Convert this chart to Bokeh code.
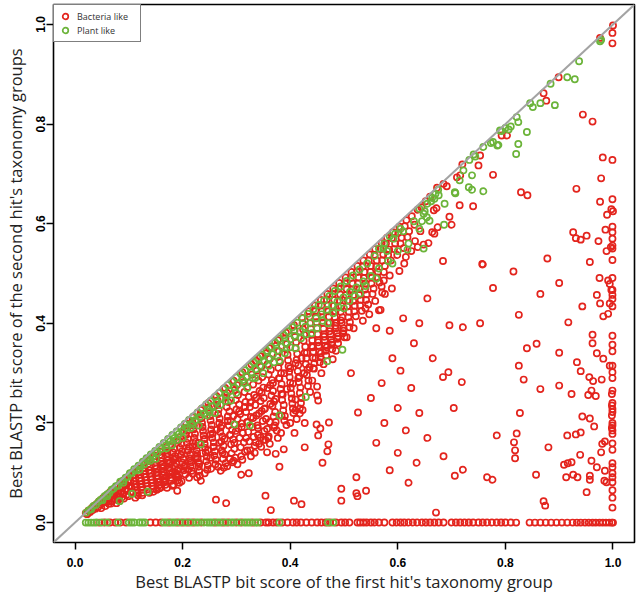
from bokeh.plotting import figure
from bokeh.models import Range1d, Slope, Legend, LegendItem, FixedTicker, PrintfTickFormatter
from bokeh.embed import file_html
from bokeh.resources import INLINE

RED = "#e3241d"
GREEN = "#6cb43a"

x_label = "Best BLASTP bit score of the first hit's taxonomy group"
y_label = "Best BLASTP bit score of the second hit's taxonomy groups"
tick_values = [0.0, 0.2, 0.4, 0.6, 0.8, 1.0]
series_names = ["Bacteria like", "Plant like"]

# Bacteria-like proteins: dense band under the diagonal
bacteria_band = [
    (0.020, 0.019), (0.022, 0.017), (0.025, 0.024), (0.028, 0.021), (0.031, 0.029), (0.033, 0.025),
    (0.036, 0.034), (0.038, 0.028), (0.041, 0.038), (0.043, 0.031), (0.045, 0.043), (0.047, 0.036),
    (0.049, 0.029), (0.052, 0.049), (0.054, 0.041), (0.056, 0.033), (0.058, 0.054), (0.061, 0.046),
    (0.063, 0.038), (0.065, 0.061), (0.067, 0.052), (0.069, 0.043), (0.071, 0.066), (0.073, 0.057),
    (0.075, 0.047), (0.077, 0.039), (0.079, 0.072), (0.081, 0.063), (0.083, 0.053), (0.086, 0.080),
    (0.088, 0.069), (0.090, 0.058), (0.091, 0.048), (0.093, 0.086), (0.095, 0.075), (0.097, 0.064),
    (0.099, 0.053), (0.101, 0.093), (0.103, 0.082), (0.105, 0.070), (0.107, 0.059),
    (0.110, 0.101), (0.112, 0.089), (0.113, 0.077), (0.115, 0.065), (0.117, 0.055), (0.119, 0.108),
    (0.121, 0.096), (0.123, 0.084), (0.124, 0.071), (0.126, 0.060), (0.128, 0.116), (0.130, 0.104),
    (0.131, 0.091), (0.133, 0.079), (0.135, 0.067), (0.137, 0.124), (0.139, 0.112), (0.140, 0.099),
    (0.142, 0.086), (0.144, 0.073), (0.146, 0.062), (0.148, 0.134), (0.150, 0.121), (0.151, 0.108),
    (0.153, 0.094), (0.155, 0.081), (0.157, 0.069), (0.159, 0.143), (0.161, 0.130), (0.162, 0.116),
    (0.164, 0.102), (0.166, 0.088), (0.168, 0.076), (0.170, 0.152), (0.172, 0.139), (0.173, 0.125),
    (0.175, 0.111), (0.177, 0.097), (0.179, 0.084), (0.181, 0.074), (0.183, 0.162), (0.185, 0.148),
    (0.186, 0.133), (0.188, 0.119), (0.190, 0.105), (0.192, 0.091), (0.194, 0.080), (0.196, 0.172),
    (0.198, 0.158), (0.199, 0.143), (0.201, 0.128), (0.203, 0.112), (0.205, 0.097),
    (0.207, 0.199), (0.209, 0.184), (0.210, 0.168), (0.212, 0.152), (0.214, 0.137), (0.216, 0.121),
    (0.217, 0.104), (0.219, 0.211), (0.221, 0.195), (0.223, 0.178), (0.224, 0.162), (0.226, 0.146),
    (0.228, 0.129), (0.230, 0.112), (0.232, 0.094), (0.234, 0.226), (0.235, 0.209), (0.237, 0.192),
    (0.239, 0.175), (0.241, 0.158), (0.243, 0.141), (0.244, 0.123), (0.246, 0.106), (0.248, 0.240),
    (0.250, 0.222), (0.252, 0.205), (0.253, 0.187), (0.255, 0.170), (0.257, 0.152), (0.259, 0.134),
    (0.261, 0.117), (0.263, 0.254), (0.264, 0.236), (0.266, 0.218), (0.268, 0.200), (0.270, 0.182),
    (0.272, 0.163), (0.273, 0.145), (0.275, 0.128), (0.277, 0.110), (0.279, 0.270), (0.281, 0.251),
    (0.282, 0.232), (0.284, 0.213), (0.286, 0.195), (0.288, 0.176), (0.290, 0.157), (0.291, 0.139),
    (0.293, 0.121), (0.295, 0.285), (0.297, 0.266), (0.299, 0.246), (0.300, 0.227), (0.302, 0.208),
    (0.304, 0.189), (0.306, 0.170), (0.308, 0.151), (0.309, 0.133),
    (0.311, 0.302), (0.313, 0.282), (0.315, 0.262), (0.317, 0.242), (0.318, 0.222), (0.320, 0.202),
    (0.322, 0.182), (0.324, 0.163), (0.326, 0.145), (0.328, 0.318), (0.329, 0.297), (0.331, 0.277),
    (0.333, 0.256), (0.335, 0.236), (0.337, 0.215), (0.339, 0.195), (0.340, 0.176), (0.342, 0.158),
    (0.344, 0.334), (0.346, 0.313), (0.348, 0.292), (0.350, 0.271), (0.351, 0.250), (0.353, 0.229),
    (0.355, 0.208), (0.357, 0.188), (0.359, 0.170), (0.361, 0.350), (0.362, 0.329), (0.364, 0.307),
    (0.366, 0.286), (0.368, 0.264), (0.370, 0.243), (0.372, 0.222), (0.373, 0.202), (0.375, 0.185),
    (0.377, 0.366), (0.379, 0.344), (0.381, 0.322), (0.383, 0.300), (0.384, 0.278), (0.386, 0.257),
    (0.388, 0.236), (0.390, 0.214), (0.392, 0.381), (0.394, 0.359), (0.395, 0.337), (0.397, 0.314),
    (0.399, 0.292), (0.401, 0.270), (0.403, 0.249), (0.405, 0.229),
    (0.407, 0.396), (0.409, 0.373), (0.410, 0.350), (0.412, 0.327), (0.414, 0.304), (0.416, 0.282),
    (0.418, 0.260), (0.420, 0.240), (0.422, 0.411), (0.424, 0.388), (0.425, 0.365), (0.427, 0.341),
    (0.429, 0.318), (0.431, 0.296), (0.433, 0.274), (0.435, 0.424), (0.437, 0.400), (0.439, 0.377),
    (0.440, 0.354), (0.442, 0.331), (0.444, 0.309), (0.446, 0.436), (0.448, 0.413), (0.450, 0.390),
    (0.452, 0.366), (0.454, 0.343), (0.455, 0.322), (0.457, 0.447), (0.459, 0.424), (0.461, 0.401),
    (0.463, 0.378), (0.465, 0.355), (0.467, 0.336), (0.469, 0.459), (0.470, 0.436), (0.472, 0.413),
    (0.474, 0.390), (0.476, 0.367), (0.478, 0.348), (0.480, 0.470), (0.482, 0.447), (0.484, 0.424),
    (0.486, 0.401), (0.487, 0.380), (0.489, 0.360), (0.491, 0.481), (0.493, 0.458), (0.495, 0.435),
    (0.497, 0.412), (0.499, 0.390), (0.501, 0.372),
    (0.503, 0.492), (0.505, 0.469), (0.507, 0.446), (0.509, 0.423), (0.511, 0.402), (0.514, 0.503),
    (0.516, 0.480), (0.518, 0.457), (0.520, 0.435), (0.522, 0.414), (0.525, 0.515), (0.527, 0.492),
    (0.529, 0.469), (0.531, 0.447), (0.533, 0.425), (0.536, 0.526), (0.538, 0.503), (0.540, 0.480),
    (0.542, 0.458), (0.545, 0.438), (0.548, 0.538), (0.550, 0.515), (0.552, 0.492), (0.555, 0.470),
    (0.558, 0.549), (0.561, 0.526), (0.563, 0.503), (0.566, 0.482), (0.570, 0.561), (0.573, 0.538),
    (0.576, 0.515), (0.580, 0.572), (0.584, 0.548), (0.587, 0.526), (0.591, 0.583), (0.595, 0.560),
    (0.599, 0.537), (0.603, 0.594), (0.607, 0.572), (0.611, 0.551), (0.616, 0.607), (0.621, 0.585),
    (0.626, 0.615), (0.631, 0.598), (0.637, 0.628), (0.644, 0.633), (0.652, 0.645), (0.660, 0.654),
]

# Bacteria-like proteins: more of the same band, between the points above
bacteria_band_fill = [
    (0.050, 0.040), (0.055, 0.047), (0.060, 0.051), (0.062, 0.043), (0.066, 0.056), (0.070, 0.055),
    (0.072, 0.048), (0.076, 0.062), (0.078, 0.052), (0.080, 0.045), (0.084, 0.070), (0.085, 0.061),
    (0.087, 0.050), (0.092, 0.077), (0.094, 0.066), (0.096, 0.056), (0.100, 0.085), (0.102, 0.073),
    (0.104, 0.062), (0.108, 0.095), (0.109, 0.083), (0.111, 0.071), (0.114, 0.060), (0.118, 0.101),
    (0.120, 0.089), (0.122, 0.077), (0.125, 0.066), (0.127, 0.110), (0.129, 0.097), (0.132, 0.085),
    (0.134, 0.073), (0.136, 0.118), (0.138, 0.105), (0.141, 0.092), (0.143, 0.080), (0.145, 0.068),
    (0.147, 0.127), (0.149, 0.114), (0.152, 0.101), (0.154, 0.088), (0.156, 0.075), (0.158, 0.136),
    (0.160, 0.123), (0.163, 0.109), (0.165, 0.095), (0.167, 0.082), (0.169, 0.145), (0.171, 0.132),
    (0.174, 0.118), (0.176, 0.104), (0.178, 0.090), (0.180, 0.155), (0.182, 0.141), (0.184, 0.126),
    (0.187, 0.112), (0.189, 0.098), (0.191, 0.085), (0.193, 0.165), (0.195, 0.150), (0.197, 0.136),
    (0.200, 0.120), (0.202, 0.105), (0.204, 0.190), (0.206, 0.176), (0.208, 0.160), (0.211, 0.145),
    (0.213, 0.129), (0.215, 0.113), (0.218, 0.203), (0.220, 0.187), (0.222, 0.170), (0.225, 0.154),
    (0.227, 0.138), (0.229, 0.121), (0.231, 0.104), (0.233, 0.217), (0.236, 0.200), (0.238, 0.184),
    (0.240, 0.167), (0.242, 0.150), (0.245, 0.132), (0.247, 0.115), (0.249, 0.231), (0.251, 0.214),
    (0.254, 0.196), (0.256, 0.179), (0.258, 0.161), (0.260, 0.143), (0.262, 0.126), (0.265, 0.245),
    (0.267, 0.227), (0.269, 0.209), (0.271, 0.191), (0.274, 0.173), (0.276, 0.154), (0.278, 0.137),
    (0.280, 0.119), (0.283, 0.260), (0.285, 0.242), (0.287, 0.223), (0.289, 0.204), (0.292, 0.186),
    (0.294, 0.167), (0.296, 0.148), (0.298, 0.130), (0.301, 0.276), (0.303, 0.256), (0.305, 0.237),
    (0.307, 0.218), (0.310, 0.199), (0.312, 0.180), (0.314, 0.161), (0.316, 0.142), (0.319, 0.292),
    (0.321, 0.272), (0.323, 0.252), (0.325, 0.232), (0.327, 0.212), (0.330, 0.192), (0.332, 0.172),
    (0.334, 0.154), (0.336, 0.325), (0.338, 0.305), (0.341, 0.285), (0.343, 0.264), (0.345, 0.244),
    (0.347, 0.224), (0.349, 0.204), (0.352, 0.184), (0.354, 0.166), (0.356, 0.340), (0.358, 0.318),
    (0.360, 0.297), (0.363, 0.276), (0.365, 0.255), (0.367, 0.234), (0.369, 0.213), (0.371, 0.195),
    (0.374, 0.355), (0.376, 0.333), (0.378, 0.311), (0.380, 0.289), (0.382, 0.268), (0.385, 0.246),
    (0.387, 0.225), (0.389, 0.205), (0.391, 0.370), (0.393, 0.348), (0.396, 0.326), (0.398, 0.303),
    (0.400, 0.281), (0.402, 0.259), (0.404, 0.239), (0.406, 0.220), (0.408, 0.385), (0.411, 0.362),
    (0.413, 0.339), (0.415, 0.316), (0.417, 0.293), (0.419, 0.271), (0.421, 0.250), (0.423, 0.400),
    (0.426, 0.377), (0.428, 0.353), (0.430, 0.330), (0.432, 0.307), (0.434, 0.285), (0.436, 0.413),
    (0.438, 0.389), (0.441, 0.366), (0.443, 0.343), (0.445, 0.320), (0.447, 0.425), (0.449, 0.402),
    (0.451, 0.378), (0.453, 0.355), (0.456, 0.332), (0.458, 0.436), (0.460, 0.412), (0.462, 0.389),
    (0.464, 0.366), (0.466, 0.345), (0.468, 0.448), (0.471, 0.424), (0.473, 0.401), (0.475, 0.378),
    (0.477, 0.357), (0.479, 0.459), (0.481, 0.435), (0.483, 0.412), (0.485, 0.390), (0.488, 0.369),
    (0.490, 0.470), (0.492, 0.446), (0.494, 0.423), (0.496, 0.401), (0.498, 0.380), (0.502, 0.480),
    (0.504, 0.457), (0.506, 0.434), (0.508, 0.412), (0.510, 0.392), (0.513, 0.491), (0.515, 0.468),
    (0.517, 0.445), (0.519, 0.424), (0.524, 0.503), (0.526, 0.480), (0.528, 0.457), (0.530, 0.436),
    (0.535, 0.514), (0.537, 0.491), (0.539, 0.468), (0.541, 0.447), (0.546, 0.526), (0.549, 0.503),
    (0.551, 0.480), (0.553, 0.459), (0.557, 0.537), (0.560, 0.514), (0.562, 0.492), (0.568, 0.549),
    (0.571, 0.526), (0.574, 0.503), (0.578, 0.560), (0.582, 0.537), (0.589, 0.571), (0.593, 0.549),
    (0.601, 0.582), (0.605, 0.560), (0.613, 0.595), (0.618, 0.573),
]

# Bacteria-like proteins: further band points in its thick lower half
bacteria_band_lower = [
    (0.153, 0.100), (0.158, 0.083), (0.165, 0.112), (0.170, 0.092), (0.176, 0.120), (0.181, 0.100),
    (0.187, 0.128), (0.193, 0.108), (0.198, 0.136), (0.204, 0.114), (0.209, 0.145), (0.214, 0.124),
    (0.219, 0.153), (0.225, 0.132), (0.230, 0.160), (0.236, 0.139), (0.241, 0.168), (0.247, 0.145),
    (0.252, 0.177), (0.258, 0.152), (0.263, 0.186), (0.268, 0.160), (0.273, 0.195), (0.278, 0.168),
    (0.284, 0.204), (0.289, 0.176), (0.294, 0.214), (0.299, 0.184), (0.305, 0.223), (0.310, 0.192),
    (0.316, 0.232), (0.321, 0.201), (0.326, 0.241), (0.331, 0.210), (0.337, 0.251), (0.342, 0.219),
    (0.347, 0.261), (0.352, 0.228), (0.358, 0.270), (0.363, 0.238), (0.368, 0.280), (0.373, 0.248),
    (0.379, 0.290), (0.384, 0.258), (0.389, 0.300), (0.394, 0.268), (0.400, 0.310), (0.405, 0.279),
    (0.410, 0.320), (0.415, 0.290), (0.421, 0.330), (0.426, 0.300), (0.431, 0.341), (0.436, 0.312),
    (0.442, 0.352), (0.447, 0.330), (0.452, 0.362), (0.457, 0.340), (0.463, 0.373), (0.468, 0.352),
    (0.473, 0.384), (0.478, 0.362), (0.484, 0.395), (0.489, 0.374), (0.494, 0.406), (0.499, 0.385),
    (0.252, 0.130), (0.274, 0.140), (0.296, 0.160), (0.318, 0.170), (0.340, 0.190), (0.362, 0.202),
    (0.384, 0.215), (0.231, 0.118), (0.210, 0.106), (0.189, 0.094), (0.168, 0.085),
]

# Bacteria-like proteins: ragged lower fringe of the band
bacteria_fringe = [
    (0.112, 0.050), (0.125, 0.055), (0.138, 0.060), (0.152, 0.066), (0.171, 0.070), (0.183, 0.076),
    (0.198, 0.083), (0.212, 0.090), (0.219, 0.098), (0.227, 0.091), (0.241, 0.099), (0.253, 0.108),
    (0.266, 0.112), (0.283, 0.113), (0.288, 0.128), (0.302, 0.117), (0.311, 0.126), (0.327, 0.133),
    (0.334, 0.140), (0.346, 0.152), (0.362, 0.158), (0.377, 0.170), (0.383, 0.180), (0.393, 0.196),
    (0.412, 0.208), (0.423, 0.226), (0.437, 0.262), (0.441, 0.285), (0.458, 0.300), (0.462, 0.318),
    (0.479, 0.328), (0.485, 0.345), (0.505, 0.372), (0.518, 0.390), (0.535, 0.405), (0.547, 0.418),
    (0.558, 0.445), (0.571, 0.462), (0.589, 0.470), (0.603, 0.505), (0.612, 0.520), (0.625, 0.545),
    (0.632, 0.565), (0.642, 0.585),
]

# Bacteria-like proteins: scattered points away from the band
bacteria_scatter = [
    (0.023, 0.017), (0.067, 0.038), (0.160, 0.071), (0.190, 0.091), (0.234, 0.084), (0.271, 0.104),
    (0.295, 0.124), (0.320, 0.145), (0.345, 0.171), (0.370, 0.191), (0.410, 0.225), (0.443, 0.310),
    (0.513, 0.300), (0.526, 0.221), (0.450, 0.273), (0.450, 0.255), (0.452, 0.245), (0.410, 0.247),
    (0.418, 0.229), (0.418, 0.219), (0.400, 0.200), (0.408, 0.180), (0.427, 0.200), (0.449, 0.197),
    (0.456, 0.189), (0.452, 0.175), (0.472, 0.201), (0.427, 0.151), (0.471, 0.157), (0.469, 0.143),
    (0.460, 0.120), (0.380, 0.112), (0.388, 0.147), (0.373, 0.138), (0.357, 0.141), (0.323, 0.099),
    (0.309, 0.096), (0.354, 0.054), (0.364, 0.025), (0.407, 0.044), (0.421, 0.037), (0.262, 0.046),
    (0.281, 0.039), (0.495, 0.068), (0.495, 0.044), (0.523, 0.091), (0.523, 0.059), (0.190, 0.064),
    (0.350, 0.166), (0.360, 0.173), (0.336, 0.161), (0.541, 0.064), (0.525, 0.053), (0.671, 0.020),
    (0.874, 0.034), (0.540, 0.430), (0.560, 0.390), (0.585, 0.385), (0.610, 0.410), (0.630, 0.360),
    (0.590, 0.330), (0.605, 0.305), (0.570, 0.280), (0.625, 0.270), (0.550, 0.250), (0.600, 0.230),
    (0.640, 0.220), (0.575, 0.200), (0.615, 0.185), (0.560, 0.160), (0.600, 0.140), (0.635, 0.120),
    (0.585, 0.105), (0.620, 0.080), (0.655, 0.450), (0.640, 0.400), (0.665, 0.330), (0.655, 0.170),
    (0.685, 0.680), (0.691, 0.675), (0.673, 0.672), (0.720, 0.719), (0.716, 0.697), (0.710, 0.693),
    (0.753, 0.737), (0.750, 0.717), (0.777, 0.698), (0.715, 0.637), (0.740, 0.635), (0.667, 0.627),
    (0.672, 0.631), (0.696, 0.614), (0.700, 0.598), (0.674, 0.593), (0.664, 0.583), (0.668, 0.580),
    (0.657, 0.561), (0.648, 0.558), (0.637, 0.553), (0.615, 0.533), (0.684, 0.525), (0.757, 0.519),
    (0.777, 0.471), (0.585, 0.496), (0.574, 0.486), (0.570, 0.474), (0.576, 0.459), (0.565, 0.426),
    (0.568, 0.427), (0.829, 0.663), (0.841, 0.657), (0.899, 0.894), (0.871, 0.862), (0.876, 0.847),
    (0.944, 0.819), (0.962, 0.805), (0.803, 0.777), (0.793, 0.777), (0.976, 0.973), (0.825, 0.417),
    (0.917, 0.402), (0.753, 0.400), (0.721, 0.392), (0.696, 0.396), (0.840, 0.350), (0.858, 0.359),
    (0.900, 0.341), (0.933, 0.322), (0.940, 0.304), (0.825, 0.315), (0.834, 0.287), (0.865, 0.268),
    (0.900, 0.275), (0.923, 0.258), (0.956, 0.292), (0.963, 0.284), (0.979, 0.287), (0.954, 0.256),
    (0.968, 0.254), (0.960, 0.265), (0.684, 0.292), (0.694, 0.302), (0.719, 0.282), (0.704, 0.230),
    (0.827, 0.220), (0.943, 0.213), (0.957, 0.209), (0.965, 0.193), (0.915, 0.175), (0.931, 0.177),
    (0.940, 0.181), (0.821, 0.179), (0.816, 0.161), (0.818, 0.145), (0.818, 0.129), (0.784, 0.175),
    (0.880, 0.151), (0.980, 0.158), (0.985, 0.163), (0.978, 0.141), (0.939, 0.136), (0.960, 0.124),
    (0.970, 0.111), (0.985, 0.104), (0.988, 0.081), (0.984, 0.084), (0.957, 0.094), (0.957, 0.086),
    (0.909, 0.116), (0.916, 0.119), (0.923, 0.121), (0.913, 0.091), (0.926, 0.096), (0.934, 0.091),
    (0.857, 0.096), (0.951, 0.061), (0.871, 0.043), (0.766, 0.091), (0.776, 0.086), (0.706, 0.094),
    (0.721, 0.106), (0.685, 0.133), (0.932, 0.670), (0.976, 0.644), (0.981, 0.733), (0.978, 0.691),
    (0.989, 0.618), (0.986, 0.588), (0.996, 0.553), (0.988, 0.545), (0.926, 0.583), (0.931, 0.571),
    (0.940, 0.568), (0.951, 0.576), (0.973, 0.565), (0.957, 0.523), (0.878, 0.530), (0.815, 0.504),
    (0.758, 0.518), (0.900, 0.481), (0.865, 0.459), (0.975, 0.491), (0.991, 0.486), (0.994, 0.479),
    (0.970, 0.457), (0.997, 0.467), (0.976, 0.440), (0.943, 0.434), (0.994, 0.440), (0.991, 0.419),
    (0.982, 0.414), (0.962, 0.377), (0.962, 0.360), (0.970, 0.340), (0.982, 0.329), (0.994, 0.315),
]

# Bacteria-like proteins whose first score is the maximum (x = 1)
bacteria_right = [
    (1.000, 0.998), (0.999, 0.983), (0.999, 0.962), (0.999, 0.728), (0.999, 0.649), (0.997, 0.629),
    (1.000, 0.625), (0.999, 0.594), (0.999, 0.583), (0.999, 0.570), (0.999, 0.556), (0.999, 0.550),
    (0.999, 0.527), (0.999, 0.491), (0.999, 0.467), (0.999, 0.457), (0.999, 0.449), (0.999, 0.434),
    (0.999, 0.375), (0.999, 0.357), (0.999, 0.344), (0.999, 0.315), (0.999, 0.302), (0.999, 0.290),
    (0.999, 0.265), (0.998, 0.258), (0.999, 0.240), (0.998, 0.235), (0.999, 0.228), (0.999, 0.222),
    (0.998, 0.215), (0.999, 0.200), (0.999, 0.195), (0.998, 0.190), (0.999, 0.185), (0.999, 0.178),
    (0.999, 0.159), (0.999, 0.146), (0.999, 0.119), (0.999, 0.111), (0.999, 0.099), (0.999, 0.091),
    (0.999, 0.081), (0.999, 0.065), (0.999, 0.050), (0.999, 0.030),
]

# Bacteria-like proteins without a second hit (y = 0)
bacteria_zero_x = [
    0.045, 0.055, 0.065, 0.075, 0.085, 0.095, 0.140, 0.150, 0.160, 0.175, 0.190, 0.200, 0.210,
    0.220, 0.235, 0.260, 0.275, 0.285, 0.300, 0.310, 0.330, 0.345, 0.355, 0.360, 0.368, 0.375,
    0.385, 0.395, 0.405, 0.412, 0.420, 0.430, 0.440, 0.450, 0.458, 0.466, 0.474, 0.485, 0.495,
    0.502, 0.510, 0.525, 0.530, 0.536, 0.542, 0.550, 0.557, 0.565, 0.575, 0.590, 0.598, 0.605,
    0.612, 0.620, 0.628, 0.636, 0.645, 0.652, 0.660, 0.668, 0.676, 0.685, 0.700, 0.708, 0.716,
    0.724, 0.732, 0.740, 0.750, 0.758, 0.766, 0.775, 0.784, 0.792, 0.800, 0.810, 0.820, 0.845,
    0.855, 0.865, 0.875, 0.885, 0.895, 0.905, 0.915, 0.925, 0.933, 0.940, 0.948, 0.955, 0.962,
    0.968, 0.975, 0.981, 0.987, 0.993, 0.998, 1.000,
]

# Plant-like proteins: close to the diagonal
plant_band = [
    (0.021, 0.020), (0.026, 0.025), (0.030, 0.027), (0.034, 0.033), (0.039, 0.036), (0.044, 0.042),
    (0.048, 0.046), (0.051, 0.045), (0.055, 0.053), (0.060, 0.057), (0.064, 0.059), (0.068, 0.066),
    (0.072, 0.068), (0.076, 0.073), (0.080, 0.074), (0.084, 0.082), (0.089, 0.084), (0.094, 0.090),
    (0.098, 0.092), (0.102, 0.099), (0.106, 0.100), (0.110, 0.107), (0.114, 0.105), (0.118, 0.114),
    (0.122, 0.113), (0.126, 0.122), (0.129, 0.117), (0.133, 0.129), (0.137, 0.127), (0.141, 0.137),
    (0.145, 0.133), (0.149, 0.144), (0.153, 0.140), (0.157, 0.152), (0.161, 0.148), (0.165, 0.160),
    (0.169, 0.155), (0.173, 0.168), (0.177, 0.163), (0.181, 0.176), (0.185, 0.170), (0.189, 0.183),
    (0.193, 0.178), (0.197, 0.191), (0.200, 0.184), (0.204, 0.198), (0.208, 0.191), (0.212, 0.206),
    (0.216, 0.198), (0.220, 0.213), (0.224, 0.206), (0.228, 0.221), (0.232, 0.212), (0.236, 0.229),
    (0.240, 0.219), (0.244, 0.237), (0.248, 0.227), (0.252, 0.244), (0.256, 0.234), (0.260, 0.252),
    (0.264, 0.242), (0.268, 0.260), (0.272, 0.249), (0.276, 0.268), (0.280, 0.256), (0.284, 0.276),
    (0.288, 0.264), (0.292, 0.283), (0.296, 0.271), (0.300, 0.291), (0.304, 0.279), (0.308, 0.299),
    (0.312, 0.286), (0.316, 0.306), (0.320, 0.293), (0.324, 0.314), (0.328, 0.301), (0.332, 0.322),
    (0.336, 0.308), (0.340, 0.330), (0.344, 0.315), (0.348, 0.337), (0.352, 0.323), (0.356, 0.345),
    (0.360, 0.330), (0.364, 0.353), (0.368, 0.338), (0.372, 0.361), (0.376, 0.345), (0.380, 0.369),
    (0.384, 0.353), (0.388, 0.376), (0.392, 0.360), (0.396, 0.384), (0.400, 0.368), (0.404, 0.392),
    (0.408, 0.375), (0.413, 0.401), (0.418, 0.384), (0.423, 0.410), (0.428, 0.393), (0.433, 0.419),
    (0.438, 0.401), (0.443, 0.428), (0.448, 0.410), (0.453, 0.437), (0.458, 0.418), (0.463, 0.446),
    (0.468, 0.427), (0.473, 0.455), (0.478, 0.436), (0.483, 0.465), (0.488, 0.444), (0.494, 0.474),
    (0.499, 0.452), (0.505, 0.485), (0.511, 0.463), (0.517, 0.496), (0.523, 0.472), (0.529, 0.508),
    (0.536, 0.484), (0.543, 0.520), (0.550, 0.495), (0.557, 0.535), (0.565, 0.510), (0.573, 0.550),
    (0.582, 0.525), (0.592, 0.570), (0.600, 0.545), (0.610, 0.585), (0.620, 0.560), (0.630, 0.605),
    (0.640, 0.590), (0.150, 0.128), (0.200, 0.170), (0.260, 0.220), (0.320, 0.270), (0.380, 0.325),
    (0.440, 0.380), (0.500, 0.430), (0.230, 0.195), (0.290, 0.245), (0.350, 0.300), (0.410, 0.350),
    (0.470, 0.400), (0.530, 0.460), (0.640, 0.630), (0.650, 0.625), (0.655, 0.640), (0.662, 0.645),
    (0.668, 0.650), (0.645, 0.605), (0.670, 0.660), (0.675, 0.668), (0.565, 0.550), (0.575, 0.560),
    (0.585, 0.575), (0.595, 0.580), (0.605, 0.590), (0.580, 0.545),
]

# Plant-like proteins: a little deeper inside the band
plant_inner = [
    (0.060, 0.053), (0.090, 0.080), (0.120, 0.106), (0.140, 0.124), (0.170, 0.149), (0.190, 0.166),
    (0.215, 0.190), (0.245, 0.215), (0.270, 0.236), (0.300, 0.260), (0.315, 0.280), (0.335, 0.290),
    (0.360, 0.315), (0.390, 0.340), (0.420, 0.370), (0.450, 0.390), (0.480, 0.420), (0.510, 0.445),
    (0.540, 0.475), (0.560, 0.490), (0.590, 0.520), (0.180, 0.155), (0.250, 0.222), (0.280, 0.244),
    (0.330, 0.290), (0.370, 0.322), (0.400, 0.352), (0.430, 0.378), (0.460, 0.405), (0.490, 0.432),
    (0.520, 0.455),
]

# Plant-like proteins: scattered points
plant_scatter = [
    (0.380, 0.215), (0.429, 0.252), (0.469, 0.324), (0.497, 0.347), (0.234, 0.157), (0.083, 0.043),
    (0.135, 0.062), (0.106, 0.058), (0.296, 0.197), (0.325, 0.195), (0.759, 0.754), (0.777, 0.764),
    (0.785, 0.757), (0.790, 0.787), (0.738, 0.697), (0.732, 0.673), (0.738, 0.668), (0.759, 0.665),
    (0.687, 0.640), (0.722, 0.707), (0.715, 0.687), (0.706, 0.663), (0.676, 0.657), (0.664, 0.652),
    (0.686, 0.598), (0.659, 0.606), (0.648, 0.620), (0.654, 0.613), (0.648, 0.550), (0.618, 0.548),
    (0.976, 0.966), (0.978, 0.969), (0.937, 0.926), (0.915, 0.894), (0.929, 0.890), (0.884, 0.881),
    (0.846, 0.842), (0.851, 0.834), (0.865, 0.842), (0.892, 0.838), (0.821, 0.814), (0.824, 0.804),
    (0.810, 0.795), (0.806, 0.789), (0.800, 0.792), (0.793, 0.786), (0.840, 0.784), (0.824, 0.760),
    (0.820, 0.740), (0.773, 0.762), (0.787, 0.758), (0.741, 0.739), (0.744, 0.735), (0.733, 0.728),
    (0.707, 0.661),
]

# Plant-like proteins without a second hit (y = 0)
plant_zero_x = [
    0.020, 0.025, 0.030, 0.035, 0.040, 0.050, 0.060, 0.080, 0.100, 0.105, 0.110, 0.120, 0.125,
    0.130, 0.165, 0.170, 0.180, 0.185, 0.195, 0.205, 0.215, 0.225, 0.230, 0.240, 0.245, 0.250,
    0.255, 0.265, 0.270, 0.280, 0.290, 0.295, 0.305, 0.315, 0.320, 0.325, 0.335, 0.340, 0.380,
    0.470, 0.480,
]

bact_pts = (bacteria_band + bacteria_band_fill + bacteria_band_lower + bacteria_fringe
            + bacteria_scatter + bacteria_right + [(v, 0.0) for v in bacteria_zero_x])
plant_pts = plant_band + plant_inner + plant_scatter + [(v, 0.0) for v in plant_zero_x]

p = figure(
    frame_width=581, frame_height=538,
    x_range=Range1d(-0.04, 1.04), y_range=Range1d(-0.04, 1.04),
    output_backend="svg", toolbar_location=None,
    min_border_left=53, min_border_right=5, min_border_top=4, min_border_bottom=52,
)
p.xgrid.visible = False
p.ygrid.visible = False
p.outline_line_color = "black"
p.outline_line_width = 1.6
p.background_fill_color = "white"
p.border_fill_color = "white"

r_b = p.scatter([a for a, b in bact_pts], [b for a, b in bact_pts], marker="circle", size=6.2,
                fill_color=None, line_color=RED, line_width=1.7)
r_p = p.scatter([a for a, b in plant_pts], [b for a, b in plant_pts], marker="circle", size=6.2,
                fill_color=None, line_color=GREEN, line_width=1.7)

p.add_layout(Slope(gradient=1, y_intercept=0, line_color="#a3a3a3", line_width=2))

for ax in (p.xaxis[0], p.yaxis[0]):
    ax.ticker = FixedTicker(ticks=tick_values)
    ax.formatter = PrintfTickFormatter(format="%.1f")
    ax.axis_line_color = None
    ax.major_tick_line_color = "black"
    ax.major_tick_line_width = 1.5
    ax.major_tick_out = 7
    ax.major_tick_in = 0
    ax.minor_tick_line_color = None
    ax.major_label_text_font = "Liberation Sans"
    ax.major_label_text_font_style = "bold"
    ax.major_label_text_font_size = "12px"
    ax.major_label_text_color = "black"
    ax.axis_label_text_font = "Open Sans"
    ax.axis_label_text_font_style = "normal"
    ax.axis_label_text_font_size = "16.5px"
    ax.axis_label_text_color = "#222222"

p.xaxis.axis_label = x_label
p.yaxis.axis_label = y_label
p.xaxis.major_label_standoff = 8
p.xaxis.axis_label_standoff = 0
p.yaxis.major_label_standoff = 1
p.yaxis.axis_label_standoff = 7
p.yaxis.major_label_orientation = "vertical"

legend = Legend(
    items=[LegendItem(label=series_names[0], renderers=[r_b]),
           LegendItem(label=series_names[1], renderers=[r_p])],
    location="top_left", margin=0, padding=4, spacing=0,
    glyph_width=14, glyph_height=14, label_height=14, label_width=59, label_standoff=5,
    label_text_font="Open Sans", label_text_font_size="9px", label_text_color="#333333",
    border_line_color="black", border_line_width=1.2, background_fill_color="white",
    background_fill_alpha=1.0,
)
p.add_layout(legend)

open("out.html", "w").write(file_html(p, INLINE))
